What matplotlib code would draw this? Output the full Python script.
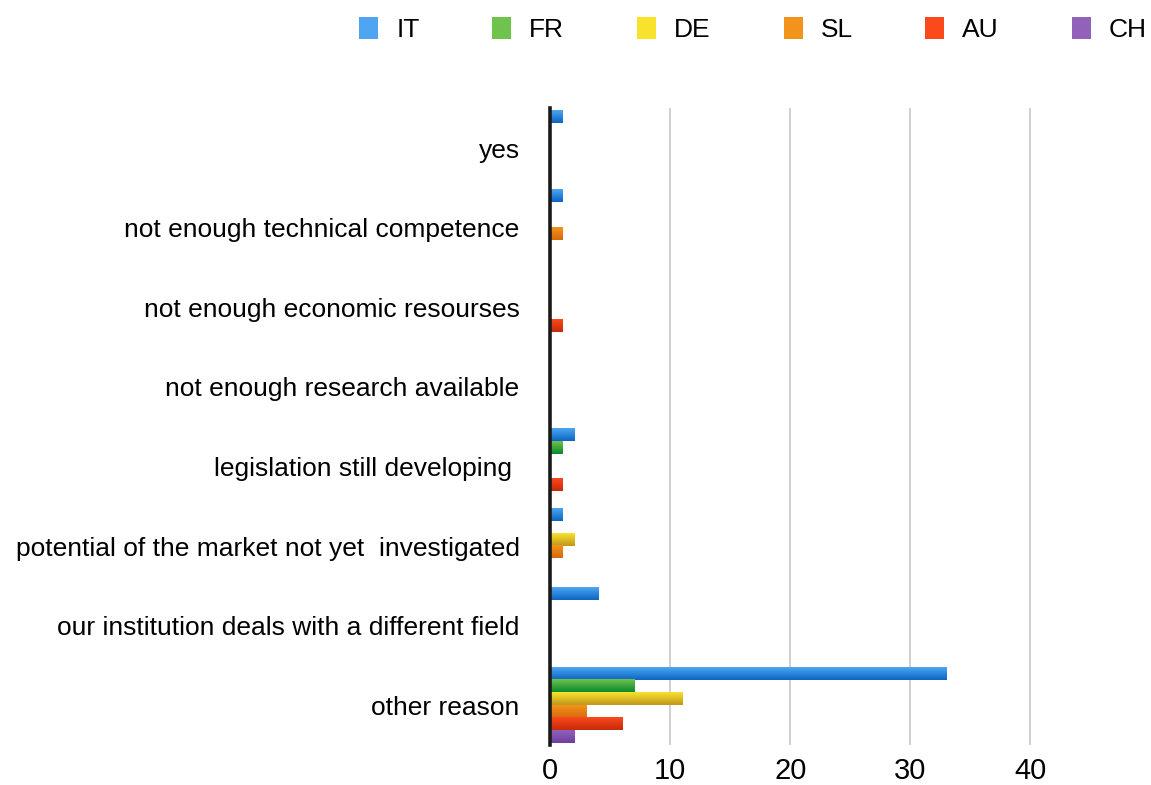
import numpy as np
import matplotlib
matplotlib.use("Agg")
import matplotlib.pyplot as plt
from matplotlib.colors import LinearSegmentedColormap
from matplotlib.patches import Patch

plt.rcParams['font.family'] = ['Liberation Sans', 'DejaVu Sans']

# Categories, top to bottom
categories = [
    "yes",
    "not enough technical competence",
    "not enough economic resourses",
    "not enough research available",
    "legislation still developing ",
    "potential of the market not yet  investigated",
    "our institution deals with a different field",
    "other reason",
]

series_names = ["IT", "FR", "DE", "SL", "AU", "CH"]

it_vals = [1, 1, 0, 0, 2, 1, 4, 33]
fr_vals = [0, 0, 0, 0, 1, 0, 0, 7]
de_vals = [0, 0, 0, 0, 0, 2, 0, 11]
sl_vals = [0, 1, 0, 0, 0, 1, 0, 3]
au_vals = [0, 0, 1, 0, 1, 0, 0, 6]
ch_vals = [0, 0, 0, 0, 0, 0, 0, 2]

x_ticks = [0, 10, 20, 30, 40]

# gradient colours (top, bottom) for each series
grad_colors = [
    ("#4ea6f2", "#0b65c3"),
    ("#6fc24c", "#0a8a2c"),
    ("#f8e22c", "#bf981a"),
    ("#f2941c", "#d9680e"),
    ("#fa4a1c", "#c72a0a"),
    ("#9262ba", "#6f3f9f"),
]

all_vals = [it_vals, fr_vals, de_vals, sl_vals, au_vals, ch_vals]

fig = plt.figure(figsize=(11.51, 7.85), dpi=100)
ax = fig.add_axes([0.478, 0.051, 0.5215, 0.811])

n_series = len(series_names)
group_h = 0.95
bar_h = group_h / n_series
y_base = np.arange(len(categories))

for j, (vals, name) in enumerate(zip(all_vals, series_names)):
    top_c, bot_c = grad_colors[j]
    ypos = y_base - group_h / 2 + bar_h * (j + 0.5)
    bars = ax.barh(ypos, vals, height=bar_h * 0.97, color=top_c, linewidth=0, zorder=2)
    cmap = LinearSegmentedColormap.from_list(name, [top_c, bot_c])
    grad = np.linspace(0, 1, 64).reshape(-1, 1)
    for b in bars:
        if b.get_width() <= 0:
            continue
        x0, y0 = b.get_x(), b.get_y()
        w, h = b.get_width(), b.get_height()
        # inverted y axis: top of bar is y0 (smaller value)
        ax.imshow(grad, cmap=cmap, aspect='auto', extent=(x0, x0 + w, y0 + h, y0),
                  origin='upper', zorder=3, interpolation='bilinear')

ax.set_xlim(0, 50)
ax.set_ylim(len(categories) - 0.5, -0.5)
ax.set_xticks(x_ticks)
ax.set_yticks(y_base)
ax.set_yticklabels(categories, fontsize=19)
ax.tick_params(axis='x', labelsize=21, length=0, pad=9)
ax.tick_params(axis='y', length=0, pad=22)

for t in x_ticks[1:]:
    ax.axvline(t, color="#c4c4c4", linewidth=1.1, zorder=1)

for s in ["top", "right", "bottom"]:
    ax.spines[s].set_visible(False)
ax.spines["left"].set_linewidth(2.6)
ax.spines["left"].set_color("#1a1a1a")
ax.spines["left"].set_zorder(5)

handles = [Patch(facecolor=c[0], edgecolor='none') for c in grad_colors]
fig.legend(handles, series_names, loc='upper right', bbox_to_anchor=(1.017, 1.009),
           ncol=6, frameon=False, fontsize=19, handlelength=0.72, handleheight=0.9,
           handletextpad=0.68, columnspacing=2.76)

fig.savefig("out.png", dpi=100)
